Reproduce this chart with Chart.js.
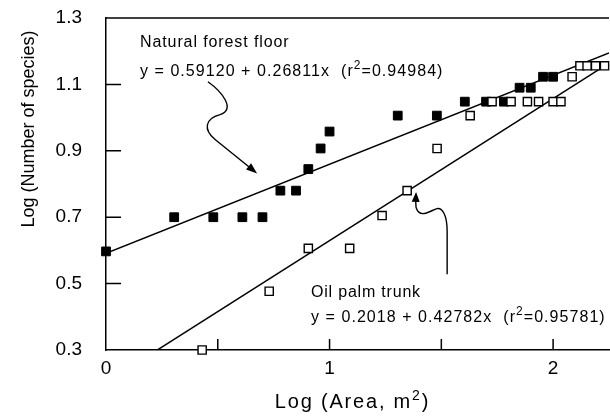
<!DOCTYPE html>
<html>
<head>
<meta charset="utf-8">
<script src="https://cdn.jsdelivr.net/npm/chart.js@4.4.0/dist/chart.umd.min.js"></script>
<style>
  html, body { margin: 0; padding: 0; background: #fff; }
</style>
</head>
<body>
<canvas id="c" width="610" height="417"></canvas>
<script>
// Natural forest floor (filled squares)
const forestX = [0.0, 0.305, 0.48, 0.61, 0.70, 0.78, 0.85, 0.905, 0.96, 1.0, 1.305, 1.48, 1.605, 1.70, 1.78, 1.85, 1.90, 1.955, 2.0];
const forestY = [0.597, 0.70, 0.70, 0.70, 0.70, 0.78, 0.78, 0.845, 0.907, 0.958, 1.006, 1.006, 1.048, 1.048, 1.048, 1.09, 1.09, 1.123, 1.123];
// Oil palm trunk (open squares)
const palmX = [0.43, 0.73, 0.905, 1.09, 1.235, 1.347, 1.481, 1.629, 1.727, 1.812, 1.885, 1.935, 2.0, 2.035, 2.085, 2.12, 2.152, 2.19, 2.23];
const palmY = [0.30, 0.477, 0.606, 0.606, 0.705, 0.78, 0.907, 1.006, 1.048, 1.048, 1.048, 1.048, 1.048, 1.048, 1.123, 1.156, 1.156, 1.156, 1.156];
// regression lines printed on the chart: [intercept, slope]
const forestFit = [0.59120, 0.26811];
const palmFit = [0.2018, 0.42782];

const xTicks = [0, 0.5, 1, 1.5, 2];
const yTicks = [0.3, 0.5, 0.7, 0.9, 1.1, 1.3];
const xMin = 0, xMax = 2.25;

const FONT = '"Liberation Sans", Arial, Helvetica, sans-serif';
Chart.defaults.font.family = FONT;
Chart.defaults.color = '#000';

const fitLine = c => [{x: xMin, y: c[0] + c[1] * xMin}, {x: xMax, y: c[0] + c[1] * xMax}];
const pts = (xs, ys) => xs.map((v, i) => ({x: v, y: ys[i]}));

// text with superscript parts, left start at x0 on baseline y0
function textWidth(ctx, parts, size, sp) {
  let w = 0;
  parts.forEach(p => {
    ctx.font = (p.sup ? Math.round(size * 0.72) : size) + 'px ' + FONT;
    ctx.letterSpacing = sp + 'px';
    w += ctx.measureText(p.t).width;
  });
  return w;
}
function drawParts(ctx, parts, x0, y0, size, sp) {
  let xx = x0;
  ctx.textAlign = 'left';
  ctx.textBaseline = 'alphabetic';
  parts.forEach(p => {
    ctx.font = (p.sup ? Math.round(size * 0.72) : size) + 'px ' + FONT;
    ctx.letterSpacing = sp + 'px';
    ctx.fillText(p.t, xx, p.sup ? y0 - size * 0.42 : y0);
    xx += ctx.measureText(p.t).width;
  });
  ctx.letterSpacing = '0px';
}

const annot = {
  id: 'annot',
  afterDraw(chart) {
    const {ctx, chartArea: a, scales: {x, y}} = chart;
    const P = (vx, vy) => [x.getPixelForValue(vx), y.getPixelForValue(vy)];
    ctx.save();
    ctx.strokeStyle = '#000';
    ctx.fillStyle = '#000';
    ctx.lineWidth = 1.5;

    // top frame line
    ctx.beginPath();
    ctx.moveTo(a.left, a.top);
    ctx.lineTo(a.right, a.top);
    ctx.stroke();

    // inward tick marks
    ctx.beginPath();
    xTicks.forEach(v => {
      if (v === xMin) return;
      const px = x.getPixelForValue(v);
      ctx.moveTo(px, a.bottom);
      ctx.lineTo(px, a.bottom - 11);
    });
    yTicks.forEach((v, i) => {
      if (i === 0 || i === yTicks.length - 1) return;
      const py = y.getPixelForValue(v);
      ctx.moveTo(a.left, py);
      ctx.lineTo(a.left + 15, py);
    });
    ctx.stroke();

    // annotations
    let [tx, ty] = P(0.152, 1.213);
    drawParts(ctx, [{t: 'Natural forest floor'}], tx, ty, 16, 0.9);
    [tx, ty] = P(0.152, 1.126);
    drawParts(ctx, [{t: 'y = 0.59120 + 0.26811x  (r'}, {t: '2', sup: true}, {t: '=0.94984)'}], tx, ty, 16, 1.05);
    [tx, ty] = P(0.917, 0.459);
    drawParts(ctx, [{t: 'Oil palm trunk'}], tx, ty, 16, 0.8);
    [tx, ty] = P(0.917, 0.384);
    drawParts(ctx, [{t: 'y = 0.2018 + 0.42782x  (r'}, {t: '2', sup: true}, {t: '=0.95781)'}], tx, ty, 16, 1.05);

    // curved arrows
    ctx.lineWidth = 1.4;
    const arrowHead = (from, tip, len, wid) => {
      const ang = Math.atan2(tip[1] - from[1], tip[0] - from[0]);
      ctx.beginPath();
      ctx.moveTo(tip[0], tip[1]);
      ctx.lineTo(tip[0] - len * Math.cos(ang) + wid * Math.sin(ang), tip[1] - len * Math.sin(ang) - wid * Math.cos(ang));
      ctx.lineTo(tip[0] - len * Math.cos(ang) - wid * Math.sin(ang), tip[1] - len * Math.sin(ang) + wid * Math.cos(ang));
      ctx.closePath();
      ctx.fill();
    };
    ctx.beginPath();
    ctx.moveTo(...P(0.456, 1.108));
    ctx.bezierCurveTo(...P(0.519, 1.078), ...P(0.582, 1.024), ...P(0.510, 1.009));
    ctx.bezierCurveTo(...P(0.443, 0.997), ...P(0.434, 0.964), ...P(0.488, 0.934));
    ctx.lineTo(...P(0.650, 0.846));
    ctx.stroke();
    arrowHead(P(0.488, 0.934), P(0.676, 0.832), 11, 4);

    ctx.beginPath();
    ctx.moveTo(...P(1.526, 0.528));
    ctx.lineTo(...P(1.526, 0.657));
    ctx.bezierCurveTo(...P(1.526, 0.708), ...P(1.503, 0.729), ...P(1.481, 0.726));
    ctx.bezierCurveTo(...P(1.450, 0.720), ...P(1.405, 0.693), ...P(1.387, 0.729));
    ctx.lineTo(...P(1.385, 0.752));
    ctx.stroke();
    arrowHead(P(1.385, 0.740), P(1.387, 0.776), 10, 4);

    // axis titles
    const xt = [{t: 'Log (Area, m'}, {t: '2', sup: true}, {t: ')'}];
    const w = textWidth(ctx, xt, 20, 1.8);
    drawParts(ctx, xt, (a.left + a.right) / 2 - 5 - w / 2, 408, 20, 1.8);

    ctx.translate(34, 129);
    ctx.rotate(-Math.PI / 2);
    ctx.font = '18px ' + FONT;
    ctx.textAlign = 'center';
    ctx.textBaseline = 'alphabetic';
    ctx.fillText('Log (Number of species)', 0, 0);
    ctx.restore();
  }
};

new Chart(document.getElementById('c'), {
  type: 'scatter',
  data: {
    datasets: [
      {
        label: 'Oil palm trunk',
        data: pts(palmX, palmY),
        pointStyle: 'rect',
        pointRadius: 5.8,
        pointBackgroundColor: '#fff',
        pointBorderColor: '#000',
        pointBorderWidth: 1.4,
        clip: false,
        order: 0
      },
      {
        label: 'Natural forest floor',
        data: pts(forestX, forestY),
        pointStyle: 'rect',
        pointRadius: 6.2,
        pointBackgroundColor: '#000',
        pointBorderColor: '#000',
        pointBorderWidth: 1,
        clip: false,
        order: 1
      },
      {
        type: 'line',
        data: fitLine(forestFit),
        borderColor: '#000',
        borderWidth: 1.5,
        pointRadius: 0,
        order: 2
      },
      {
        type: 'line',
        data: fitLine(palmFit),
        borderColor: '#000',
        borderWidth: 1.5,
        pointRadius: 0,
        order: 3
      }
    ]
  },
  options: {
    responsive: false,
    animation: false,
    devicePixelRatio: 1,
    layout: { autoPadding: false, padding: { top: 18, right: 1, left: 0, bottom: 0 } },
    plugins: { legend: { display: false }, tooltip: { enabled: false } },
    scales: {
      x: {
        type: 'linear',
        min: xMin,
        max: xMax,
        afterBuildTicks: s => { s.ticks = xTicks.map(value => ({value})); },
        afterFit: s => { s.height = 67; s.paddingLeft = 0; s.paddingRight = 0; },
        ticks: {
          callback: v => Number.isInteger(v) ? String(v) : '',
          font: { size: 19 },
          color: '#000',
          padding: 7,
          maxRotation: 0,
          autoSkip: false
        },
        grid: { display: false, drawTicks: false },
        border: { display: true, color: '#000', width: 1.5 }
      },
      y: {
        type: 'linear',
        min: 0.3,
        max: 1.3,
        afterBuildTicks: s => { s.ticks = yTicks.map(value => ({value})); },
        afterFit: s => { s.width = 106; s.paddingTop = 0; s.paddingBottom = 0; },
        ticks: {
          callback: v => v.toFixed(1),
          font: { size: 19 },
          color: '#000',
          padding: 24,
          autoSkip: false
        },
        grid: { display: false, drawTicks: false },
        border: { display: true, color: '#000', width: 1.5 }
      }
    }
  },
  plugins: [annot]
});
</script>
</body>
</html>
